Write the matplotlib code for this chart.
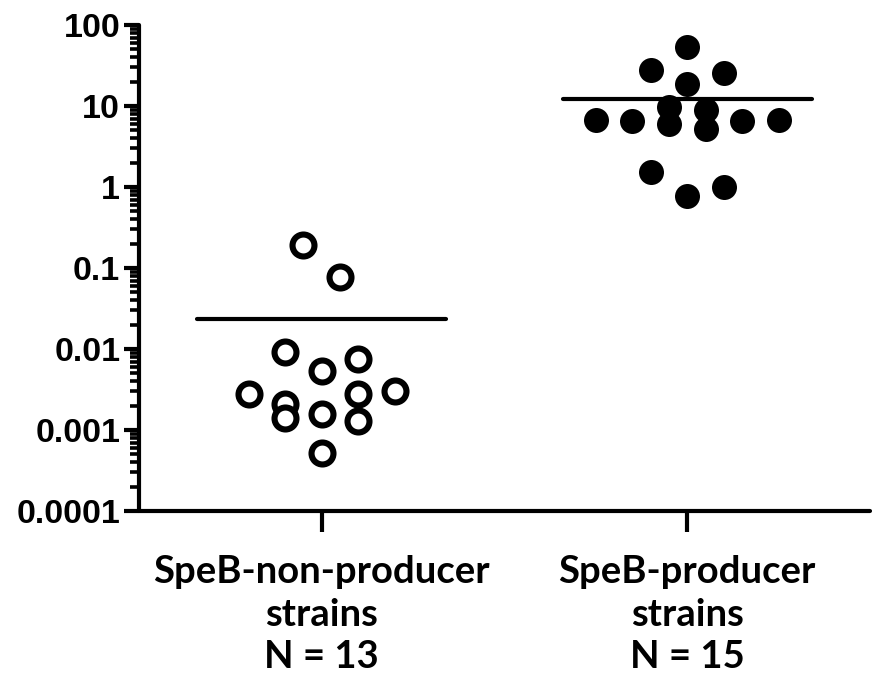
import matplotlib
matplotlib.use("Agg")
import matplotlib.pyplot as plt
from matplotlib.ticker import LogLocator, FixedLocator, NullFormatter
import numpy as np

# ---- data ----
categories = ["SpeB-non-producer\nstrains\nN = 13", "SpeB-producer\nstrains\nN = 15"]
nonproducer_values = [0.190, 0.0785, 0.00927, 0.00539, 0.00759, 0.00280, 0.00305,
                      0.00211, 0.00141, 0.00158, 0.00280, 0.00130, 0.00052]
nonproducer_cols = [-0.5, 0.5, -1, 0, 1, -2, 2, -1, -1, 0, 1, 1, 0]
producer_values = [53.4, 27.8, 25.5, 18.6, 9.68, 8.88, 6.68, 6.49, 5.96, 5.17,
                   6.49, 6.68, 1.52, 0.766, 0.99]
producer_cols = [0, -1, 1, 0, -0.5, 0.5, -2.5, -1.5, -0.5, 0.5, 1.5, 2.5, -1, 0, 1]
ytick_values = [0.0001, 0.001, 0.01, 0.1, 1, 10, 100]
ytick_labels = ["0.0001", "0.001", "0.01", "0.1", "1", "10", "100"]

col_step = 0.1
mean_halfwidth = 0.34

fig = plt.figure(figsize=(8.74, 6.89), dpi=100)
ax = fig.add_axes([139/874, 1-511/689, 731/874, 486/689])

ax.set_yscale("log")
ax.set_ylim(1e-4, 1e2)
ax.set_xlim(-0.5, 1.5)

# non-producer: open circles
xn = 0 + np.array(nonproducer_cols) * col_step
ax.plot(xn, nonproducer_values, linestyle="none", marker="o", markersize=15.8,
        markerfacecolor="white", markeredgecolor="black", markeredgewidth=4.4,
        clip_on=False, zorder=3)
# producer: filled circles
xp = 1 + np.array(producer_cols) * col_step
ax.plot(xp, producer_values, linestyle="none", marker="o", markersize=18,
        markerfacecolor="black", markeredgecolor="black", markeredgewidth=0,
        clip_on=False, zorder=3)

# mean lines
for xc, vals in [(0, nonproducer_values), (1, producer_values)]:
    m = np.mean(vals)
    ax.plot([xc - mean_halfwidth, xc + mean_halfwidth], [m, m], color="black",
            lw=3, solid_capstyle="round", zorder=2)

# axes styling
for s in ["top", "right"]:
    ax.spines[s].set_visible(False)
for s in ["left", "bottom"]:
    ax.spines[s].set_linewidth(3)
    ax.spines[s].set_capstyle("round")

ax.yaxis.set_major_locator(FixedLocator(ytick_values))
ax.set_yticklabels(ytick_labels)
ax.yaxis.set_minor_locator(LogLocator(base=10, subs=np.arange(2, 10), numticks=20))
ax.yaxis.set_minor_formatter(NullFormatter())
ax.tick_params(axis="y", which="major", direction="out", length=10.5, width=3, pad=3)
ax.tick_params(axis="y", which="minor", direction="out", length=6.5, width=2.6)

for lab in ax.get_yticklabels():
    lab.set_fontfamily("Liberation Sans")
    lab.set_fontweight("bold")
    lab.set_fontsize(24.5)

ax.set_xticks([0, 1])
ax.set_xticklabels(categories)
ax.tick_params(axis="x", which="major", direction="out", length=15, width=3, pad=17)
for lab in ax.get_xticklabels():
    lab.set_fontfamily("Lato")
    lab.set_fontweight("bold")
    lab.set_fontsize(27.5)
    lab.set_linespacing(1.3)

fig.savefig("out.png", dpi=100, facecolor="white")
